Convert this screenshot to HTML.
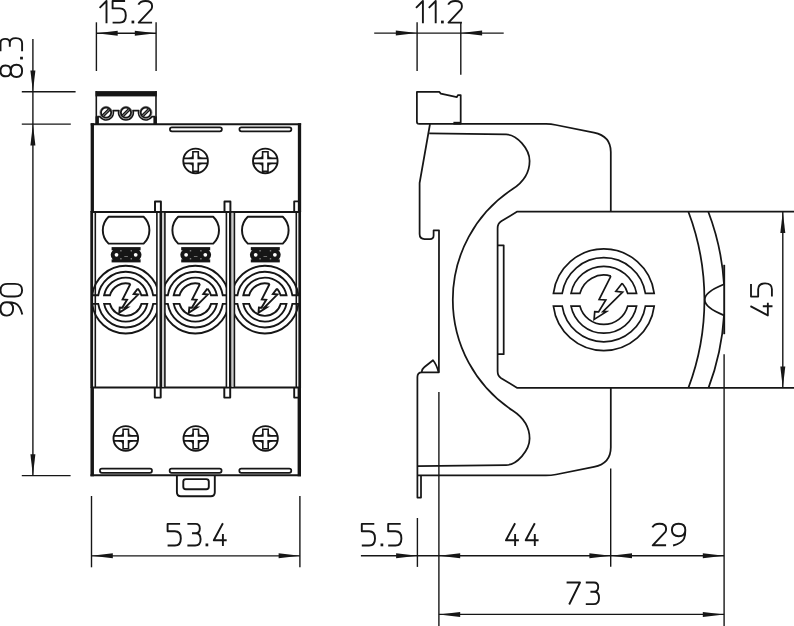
<!DOCTYPE html>
<html><head><meta charset="utf-8"><title>Dimension drawing</title>
<style>
html,body{margin:0;padding:0;background:#fff;}
body{width:794px;height:626px;overflow:hidden;font-family:"Liberation Sans",sans-serif;}
svg{display:block;}
</style></head><body>
<svg width="794" height="626" viewBox="0 0 794 626">
<rect width="794" height="626" fill="#ffffff"/>
<path d="M96.4,22.3 L96.4,71" stroke="#161616" stroke-width="1.4" fill="none"/>
<path d="M156.1,22.3 L156.1,71" stroke="#161616" stroke-width="1.4" fill="none"/>
<path d="M96.4,33.2 L156.1,33.2" stroke="#161616" stroke-width="1.4" fill="none"/>
<polygon points="96.40,33.20 117.70,30.70 117.70,35.70" fill="#161616"/>
<polygon points="156.10,33.20 134.80,30.70 134.80,35.70" fill="#161616"/>
<path transform="translate(99.60,1.00)" d="M0,6.9 L6.9,0 L6.9,22.3" fill="none" stroke="#161616" stroke-width="1.9" stroke-linejoin="round" stroke-linecap="butt"/>
<path transform="translate(112.60,1.00)" d="M12.5,0 L0,0 L0,7.4 L7.3,7.4 C11.3,7.4 13.2,10 13.2,14.5 C13.2,18.9 11.3,21.6 7.3,21.6 L0,21.6" fill="none" stroke="#161616" stroke-width="1.9" stroke-linejoin="round" stroke-linecap="butt"/>
<rect x="131.55" y="20.60" width="2.7" height="2.8" fill="#161616"/>
<path transform="translate(138.40,1.00)" d="M0,3.7 C1.2,1.3 4,0 7,0 C11,0 13.7,1.8 13.7,5 C13.7,6.3 13.5,7.3 13,8.1 L0.3,21.6 L13.7,21.6" fill="none" stroke="#161616" stroke-width="1.9" stroke-linejoin="round" stroke-linecap="butt"/>
<path d="M32.9,38.9 L32.9,475.6" stroke="#161616" stroke-width="1.4" fill="none"/>
<path d="M21.8,91.8 L75.6,91.8" stroke="#161616" stroke-width="1.4" fill="none"/>
<path d="M21.8,124.1 L70.8,124.1" stroke="#161616" stroke-width="1.4" fill="none"/>
<path d="M21.8,475.6 L70.6,475.6" stroke="#161616" stroke-width="1.4" fill="none"/>
<polygon points="32.90,91.80 30.40,70.50 35.40,70.50" fill="#161616"/>
<polygon points="32.90,124.10 30.40,145.40 35.40,145.40" fill="#161616"/>
<polygon points="32.90,475.60 30.40,454.30 35.40,454.30" fill="#161616"/>
<path transform="translate(0.50,77.00) rotate(-90) scale(1,1.0000)" d="M6.1,10.3 C2.0999999999999996,10.3 0.6999999999999993,8 0.6999999999999993,5.1 C0.6999999999999993,2 2.4999999999999996,0 6.1,0 C9.7,0 11.5,2 11.5,5.1 C11.5,8 10.1,10.3 6.1,10.3 C10.5,10.3 12.2,12.8 12.2,16 C12.2,19.3 10.1,21.6 6.1,21.6 C2.0999999999999996,21.6 0.0,19.3 0.0,16 C0.0,12.8 1.6999999999999993,10.3 6.1,10.3 Z" fill="none" stroke="#161616" stroke-width="1.9" stroke-linejoin="round" stroke-linecap="butt"/>
<rect transform="translate(0.50,58.10) rotate(-90) scale(1,1.0000)" x="-1.35" y="19.60" width="2.7" height="2.8" fill="#161616"/>
<path transform="translate(0.50,51.30) rotate(-90) scale(1,1.0000)" d="M0,0 L8.2,0 C11,0 12.4,1.8 12.4,4.6 C12.4,7.4 11,9.3 8.2,9.3 L4.6,9.3 M8.2,9.3 C11.5,9.3 13.2,11.6 13.2,15.4 C13.2,19.3 11.2,21.6 7.7,21.6 L0,21.6" fill="none" stroke="#161616" stroke-width="1.9" stroke-linejoin="round" stroke-linecap="butt"/>
<path transform="translate(0.50,315.60) rotate(-90) scale(1,1.0000)" d="M13.4,6.3 C13.4,10 11,12.6 6.7,12.6 C2.5,12.6 0,10 0,6.3 C0,2.5 2.5,0 6.7,0 C11,0 13.4,2.5 13.4,6.3 C13.4,10 13.1,12.6 12.2,14.8 C10.9,17.8 7.2,20.3 1.2,21.8" fill="none" stroke="#161616" stroke-width="1.9" stroke-linejoin="round" stroke-linecap="butt"/>
<path transform="translate(0.50,296.50) rotate(-90) scale(1,1.0000)" d="M0,7.2 C0,2.4 2.3,0 6.3,0 C10.3,0 12.6,2.4 12.6,7.2 L12.6,14.400000000000002 C12.6,19.200000000000003 10.3,21.6 6.3,21.6 C2.3,21.6 0,19.200000000000003 0,14.400000000000002 Z" fill="none" stroke="#161616" stroke-width="1.9" stroke-linejoin="round" stroke-linecap="butt"/>
<path d="M91.5,496 L91.5,567.3" stroke="#161616" stroke-width="1.4" fill="none"/>
<path d="M299.9,496 L299.9,567.3" stroke="#161616" stroke-width="1.4" fill="none"/>
<path d="M91.5,555.85 L299.9,555.85" stroke="#161616" stroke-width="1.4" fill="none"/>
<polygon points="91.50,555.85 112.80,553.35 112.80,558.35" fill="#161616"/>
<polygon points="299.90,555.85 278.60,553.35 278.60,558.35" fill="#161616"/>
<path transform="translate(167.60,523.90)" d="M12.5,0 L0,0 L0,7.4 L7.3,7.4 C11.3,7.4 13.2,10 13.2,14.5 C13.2,18.9 11.3,21.6 7.3,21.6 L0,21.6" fill="none" stroke="#161616" stroke-width="1.9" stroke-linejoin="round" stroke-linecap="butt"/>
<path transform="translate(187.40,523.90)" d="M0,0 L8.2,0 C11,0 12.4,1.8 12.4,4.6 C12.4,7.4 11,9.3 8.2,9.3 L4.6,9.3 M8.2,9.3 C11.5,9.3 13.2,11.6 13.2,15.4 C13.2,19.3 11.2,21.6 7.7,21.6 L0,21.6" fill="none" stroke="#161616" stroke-width="1.9" stroke-linejoin="round" stroke-linecap="butt"/>
<rect x="205.55" y="543.50" width="2.7" height="2.8" fill="#161616"/>
<path transform="translate(213.80,523.90)" d="M9.1,-0.6 L0,16.4 L12.9,16.4 M9.1,10.2 L9.1,22.1" fill="none" stroke="#161616" stroke-width="1.9" stroke-linejoin="round" stroke-linecap="butt"/>
<path d="M374.2,33.1 L503.7,33.1" stroke="#161616" stroke-width="1.4" fill="none"/>
<path d="M417.1,22.2 L417.1,70.9" stroke="#161616" stroke-width="1.4" fill="none"/>
<path d="M460.8,22.4 L460.8,74.7" stroke="#161616" stroke-width="1.4" fill="none"/>
<polygon points="417.10,33.10 395.80,30.60 395.80,35.60" fill="#161616"/>
<polygon points="460.80,33.10 482.10,30.60 482.10,35.60" fill="#161616"/>
<path transform="translate(416.00,1.00)" d="M0,6.9 L6.9,0 L6.9,22.3" fill="none" stroke="#161616" stroke-width="1.9" stroke-linejoin="round" stroke-linecap="butt"/>
<path transform="translate(428.80,1.00)" d="M0,6.9 L6.9,0 L6.9,22.3" fill="none" stroke="#161616" stroke-width="1.9" stroke-linejoin="round" stroke-linecap="butt"/>
<rect x="441.05" y="20.60" width="2.7" height="2.8" fill="#161616"/>
<path transform="translate(448.20,1.00)" d="M0,3.7 C1.2,1.3 4,0 7,0 C11,0 13.7,1.8 13.7,5 C13.7,6.3 13.5,7.3 13,8.1 L0.3,21.6 L13.7,21.6" fill="none" stroke="#161616" stroke-width="1.9" stroke-linejoin="round" stroke-linecap="butt"/>
<path d="M360.9,555.8 L724.1,555.8" stroke="#161616" stroke-width="1.4" fill="none"/>
<path d="M417.4,518 L417.4,566.9" stroke="#161616" stroke-width="1.4" fill="none"/>
<path d="M438.9,392.1 L438.9,626" stroke="#161616" stroke-width="1.4" fill="none"/>
<path d="M610.7,468.6 L610.7,566.8" stroke="#161616" stroke-width="1.4" fill="none"/>
<path d="M724.1,354.3 L724.1,626" stroke="#161616" stroke-width="1.4" fill="none"/>
<polygon points="417.40,555.80 396.10,553.30 396.10,558.30" fill="#161616"/>
<polygon points="438.90,555.80 460.20,553.30 460.20,558.30" fill="#161616"/>
<polygon points="610.70,555.80 589.40,553.30 589.40,558.30" fill="#161616"/>
<polygon points="610.70,555.80 632.00,553.30 632.00,558.30" fill="#161616"/>
<polygon points="724.10,555.80 702.80,553.30 702.80,558.30" fill="#161616"/>
<path transform="translate(361.80,523.90)" d="M12.5,0 L0,0 L0,7.4 L7.3,7.4 C11.3,7.4 13.2,10 13.2,14.5 C13.2,18.9 11.3,21.6 7.3,21.6 L0,21.6" fill="none" stroke="#161616" stroke-width="1.9" stroke-linejoin="round" stroke-linecap="butt"/>
<rect x="380.55" y="543.50" width="2.7" height="2.8" fill="#161616"/>
<path transform="translate(388.20,523.90)" d="M12.5,0 L0,0 L0,7.4 L7.3,7.4 C11.3,7.4 13.2,10 13.2,14.5 C13.2,18.9 11.3,21.6 7.3,21.6 L0,21.6" fill="none" stroke="#161616" stroke-width="1.9" stroke-linejoin="round" stroke-linecap="butt"/>
<path transform="translate(506.00,523.90)" d="M9.1,-0.6 L0,16.4 L12.9,16.4 M9.1,10.2 L9.1,22.1" fill="none" stroke="#161616" stroke-width="1.9" stroke-linejoin="round" stroke-linecap="butt"/>
<path transform="translate(525.70,523.90)" d="M9.1,-0.6 L0,16.4 L12.9,16.4 M9.1,10.2 L9.1,22.1" fill="none" stroke="#161616" stroke-width="1.9" stroke-linejoin="round" stroke-linecap="butt"/>
<path transform="translate(652.40,523.70)" d="M0,3.7 C1.2,1.3 4,0 7,0 C11,0 13.7,1.8 13.7,5 C13.7,6.3 13.5,7.3 13,8.1 L0.3,21.6 L13.7,21.6" fill="none" stroke="#161616" stroke-width="1.9" stroke-linejoin="round" stroke-linecap="butt"/>
<path transform="translate(671.90,523.70)" d="M13.4,6.3 C13.4,10 11,12.6 6.7,12.6 C2.5,12.6 0,10 0,6.3 C0,2.5 2.5,0 6.7,0 C11,0 13.4,2.5 13.4,6.3 C13.4,10 13.1,12.6 12.2,14.8 C10.9,17.8 7.2,20.3 1.2,21.8" fill="none" stroke="#161616" stroke-width="1.9" stroke-linejoin="round" stroke-linecap="butt"/>
<path d="M438.9,614.4 L724.1,614.4" stroke="#161616" stroke-width="1.4" fill="none"/>
<polygon points="438.90,614.40 460.20,611.90 460.20,616.90" fill="#161616"/>
<polygon points="724.10,614.40 702.80,611.90 702.80,616.90" fill="#161616"/>
<path transform="translate(566.60,582.50)" d="M0,0 L13.4,0 L2.6,22.0" fill="none" stroke="#161616" stroke-width="1.9" stroke-linejoin="round" stroke-linecap="butt"/>
<path transform="translate(585.80,582.50)" d="M0,0 L8.2,0 C11,0 12.4,1.8 12.4,4.6 C12.4,7.4 11,9.3 8.2,9.3 L4.6,9.3 M8.2,9.3 C11.5,9.3 13.2,11.6 13.2,15.4 C13.2,19.3 11.2,21.6 7.7,21.6 L0,21.6" fill="none" stroke="#161616" stroke-width="1.9" stroke-linejoin="round" stroke-linecap="butt"/>
<path d="M782.8,211.7 L782.8,387.9" stroke="#161616" stroke-width="1.4" fill="none"/>
<polygon points="782.80,211.70 780.30,233.00 785.30,233.00" fill="#161616"/>
<polygon points="782.80,387.90 780.30,366.60 785.30,366.60" fill="#161616"/>
<path transform="translate(751.00,315.40) rotate(-90) scale(1,0.9680)" d="M9.2,-0.6 L0,17.4 L12.6,17.4 M9.2,12.2 L9.2,22.200000000000003" fill="none" stroke="#161616" stroke-width="1.9" stroke-linejoin="round" stroke-linecap="butt"/>
<path transform="translate(751.00,296.60) rotate(-90) scale(1,0.9680)" d="M12.5,0 L0,0 L0,7.4 L7.3,7.4 C11.3,7.4 13.2,10 13.2,14.5 C13.2,18.9 11.3,21.6 7.3,21.6 L0,21.6" fill="none" stroke="#161616" stroke-width="1.9" stroke-linejoin="round" stroke-linecap="butt"/>
<rect x="95.5" y="91.1" width="61.3" height="5.3" fill="#161616"/>
<path d="M96.3,91.1 L96.3,124" stroke="#161616" stroke-width="1.6" fill="none"/>
<path d="M156.0,91.1 L156.0,124" stroke="#161616" stroke-width="1.6" fill="none"/>
<rect x="95.5" y="116.4" width="3.4" height="7.6" fill="#161616"/>
<rect x="153.4" y="116.4" width="3.4" height="7.6" fill="#161616"/>
<path d="M97.2,116.7 L100.06,116.7 A7.3,7.3 0 0 0 113.1,110.6 L118.95,110.6 A7.3,7.3 0 1 0 132.95,110.6 L138.8,110.6 A7.3,7.3 0 0 0 151.84,116.7 L155,116.7" stroke="#161616" stroke-width="1.8" fill="none" stroke-linejoin="round" />
<circle cx="106.1" cy="112.6" r="6.25" fill="none" stroke="#8c8c8c" stroke-width="0.9"/>
<circle cx="106.1" cy="112.6" r="5.1" fill="#fff" stroke="#161616" stroke-width="1.8"/>
<path d="M103.0,115.69999999999999 L109.19999999999999,109.5" stroke="#777" stroke-width="2.4"/>
<path d="M102.05,115.14999999999999 L108.64999999999999,108.55" stroke="#161616" stroke-width="1.2"/>
<path d="M103.55,116.64999999999999 L110.14999999999999,110.05" stroke="#161616" stroke-width="1.2"/>
<circle cx="125.95" cy="112.6" r="6.25" fill="none" stroke="#8c8c8c" stroke-width="0.9"/>
<circle cx="125.95" cy="112.6" r="5.1" fill="#fff" stroke="#161616" stroke-width="1.8"/>
<path d="M122.85000000000001,115.69999999999999 L129.05,109.5" stroke="#777" stroke-width="2.4"/>
<path d="M121.9,115.14999999999999 L128.5,108.55" stroke="#161616" stroke-width="1.2"/>
<path d="M123.4,116.64999999999999 L130.0,110.05" stroke="#161616" stroke-width="1.2"/>
<circle cx="145.8" cy="112.6" r="6.25" fill="none" stroke="#8c8c8c" stroke-width="0.9"/>
<circle cx="145.8" cy="112.6" r="5.1" fill="#fff" stroke="#161616" stroke-width="1.8"/>
<path d="M142.70000000000002,115.69999999999999 L148.9,109.5" stroke="#777" stroke-width="2.4"/>
<path d="M141.75000000000003,115.14999999999999 L148.35,108.55" stroke="#161616" stroke-width="1.2"/>
<path d="M143.25000000000003,116.64999999999999 L149.85,110.05" stroke="#161616" stroke-width="1.2"/>
<path d="M92.3,123.2 L92.3,212" stroke="#161616" stroke-width="3.3" fill="none"/>
<path d="M299.5,123.2 L299.5,212" stroke="#161616" stroke-width="3.3" fill="none"/>
<path d="M92.2,387.4 L92.2,476.3" stroke="#161616" stroke-width="3.5" fill="none"/>
<path d="M299.3,387.4 L299.3,476.3" stroke="#161616" stroke-width="3.4" fill="none"/>
<path d="M90.7,124.2 L301.1,124.2" stroke="#161616" stroke-width="2.0" fill="none"/>
<path d="M90.5,475.3 L301.0,475.3" stroke="#161616" stroke-width="2.0" fill="none"/>
<path d="M91.7,211 L91.7,388" stroke="#161616" stroke-width="2.8" fill="none"/>
<path d="M95.3,212 L95.3,387.4" stroke="#161616" stroke-width="1.6" fill="none"/>
<path d="M296.3,212 L296.3,387.4" stroke="#161616" stroke-width="1.6" fill="none"/>
<path d="M299.7,211 L299.7,388" stroke="#161616" stroke-width="2.7" fill="none"/>
<path d="M91,211.9 L301,211.9" stroke="#161616" stroke-width="2.0" fill="none"/>
<path d="M91,387.4 L301,387.4" stroke="#161616" stroke-width="2.0" fill="none"/>
<rect x="169.89999999999998" y="127.3" width="52.00000000000001" height="4.0" rx="2" ry="2" fill="none" stroke="#161616" stroke-width="1.7"/>
<rect x="239.39999999999998" y="127.3" width="52.000000000000036" height="4.0" rx="2" ry="2" fill="none" stroke="#161616" stroke-width="1.7"/>
<rect x="99.9" y="468.7" width="52.09999999999999" height="4.1" rx="2" ry="2" fill="none" stroke="#161616" stroke-width="1.7"/>
<rect x="169.6" y="468.7" width="52.00000000000001" height="4.1" rx="2" ry="2" fill="none" stroke="#161616" stroke-width="1.7"/>
<rect x="239.29999999999998" y="468.7" width="52.00000000000001" height="4.1" rx="2" ry="2" fill="none" stroke="#161616" stroke-width="1.7"/>
<circle cx="195.6" cy="160.9" r="12.3" fill="none" stroke="#161616" stroke-width="1.9"/>
<path d="M183.55674462614033,158.4 L192.9,158.4 L192.9,151.70000000000002 L198.29999999999998,151.70000000000002 L198.29999999999998,158.4 L207.64325537385966,158.4 M183.55674462614033,163.4 L192.9,163.4 L192.9,171.3 L198.29999999999998,171.3 L198.29999999999998,163.4 L207.64325537385966,163.4" fill="none" stroke="#161616" stroke-width="1.6" stroke-linejoin="miter"/>
<path d="M192.9,158.4 L188.4,158.4 Q192.3,157.8 192.9,155.4 Z" fill="#161616" stroke="#161616" stroke-width="0.6"/>
<path d="M192.9,163.4 L188.4,163.4 Q192.3,164.0 192.9,166.4 Z" fill="#161616" stroke="#161616" stroke-width="0.6"/>
<path d="M198.29999999999998,158.4 L202.79999999999998,158.4 Q198.89999999999998,157.8 198.29999999999998,155.4 Z" fill="#161616" stroke="#161616" stroke-width="0.6"/>
<path d="M198.29999999999998,163.4 L202.79999999999998,163.4 Q198.89999999999998,164.0 198.29999999999998,166.4 Z" fill="#161616" stroke="#161616" stroke-width="0.6"/>
<circle cx="265.3" cy="160.9" r="12.3" fill="none" stroke="#161616" stroke-width="1.9"/>
<path d="M253.25674462614035,158.4 L262.6,158.4 L262.6,151.70000000000002 L268.0,151.70000000000002 L268.0,158.4 L277.3432553738597,158.4 M253.25674462614035,163.4 L262.6,163.4 L262.6,171.3 L268.0,171.3 L268.0,163.4 L277.3432553738597,163.4" fill="none" stroke="#161616" stroke-width="1.6" stroke-linejoin="miter"/>
<path d="M262.6,158.4 L258.1,158.4 Q262.0,157.8 262.6,155.4 Z" fill="#161616" stroke="#161616" stroke-width="0.6"/>
<path d="M262.6,163.4 L258.1,163.4 Q262.0,164.0 262.6,166.4 Z" fill="#161616" stroke="#161616" stroke-width="0.6"/>
<path d="M268.0,158.4 L272.5,158.4 Q268.6,157.8 268.0,155.4 Z" fill="#161616" stroke="#161616" stroke-width="0.6"/>
<path d="M268.0,163.4 L272.5,163.4 Q268.6,164.0 268.0,166.4 Z" fill="#161616" stroke="#161616" stroke-width="0.6"/>
<circle cx="125.8" cy="438.4" r="12.3" fill="none" stroke="#161616" stroke-width="1.9"/>
<path d="M113.75674462614032,435.9 L123.1,435.9 L123.1,429.2 L128.5,429.2 L128.5,435.9 L137.84325537385968,435.9 M113.75674462614032,440.9 L123.1,440.9 L123.1,448.79999999999995 L128.5,448.79999999999995 L128.5,440.9 L137.84325537385968,440.9" fill="none" stroke="#161616" stroke-width="1.6" stroke-linejoin="miter"/>
<path d="M123.1,435.9 L118.6,435.9 Q122.5,435.29999999999995 123.1,432.9 Z" fill="#161616" stroke="#161616" stroke-width="0.6"/>
<path d="M123.1,440.9 L118.6,440.9 Q122.5,441.5 123.1,443.9 Z" fill="#161616" stroke="#161616" stroke-width="0.6"/>
<path d="M128.5,435.9 L133.0,435.9 Q129.1,435.29999999999995 128.5,432.9 Z" fill="#161616" stroke="#161616" stroke-width="0.6"/>
<path d="M128.5,440.9 L133.0,440.9 Q129.1,441.5 128.5,443.9 Z" fill="#161616" stroke="#161616" stroke-width="0.6"/>
<circle cx="195.8" cy="438.4" r="12.3" fill="none" stroke="#161616" stroke-width="1.9"/>
<path d="M183.75674462614035,435.9 L193.10000000000002,435.9 L193.10000000000002,429.2 L198.5,429.2 L198.5,435.9 L207.84325537385968,435.9 M183.75674462614035,440.9 L193.10000000000002,440.9 L193.10000000000002,448.79999999999995 L198.5,448.79999999999995 L198.5,440.9 L207.84325537385968,440.9" fill="none" stroke="#161616" stroke-width="1.6" stroke-linejoin="miter"/>
<path d="M193.10000000000002,435.9 L188.60000000000002,435.9 Q192.50000000000003,435.29999999999995 193.10000000000002,432.9 Z" fill="#161616" stroke="#161616" stroke-width="0.6"/>
<path d="M193.10000000000002,440.9 L188.60000000000002,440.9 Q192.50000000000003,441.5 193.10000000000002,443.9 Z" fill="#161616" stroke="#161616" stroke-width="0.6"/>
<path d="M198.5,435.9 L203.0,435.9 Q199.1,435.29999999999995 198.5,432.9 Z" fill="#161616" stroke="#161616" stroke-width="0.6"/>
<path d="M198.5,440.9 L203.0,440.9 Q199.1,441.5 198.5,443.9 Z" fill="#161616" stroke="#161616" stroke-width="0.6"/>
<circle cx="265.5" cy="438.4" r="12.3" fill="none" stroke="#161616" stroke-width="1.9"/>
<path d="M253.45674462614033,435.9 L262.8,435.9 L262.8,429.2 L268.2,429.2 L268.2,435.9 L277.54325537385967,435.9 M253.45674462614033,440.9 L262.8,440.9 L262.8,448.79999999999995 L268.2,448.79999999999995 L268.2,440.9 L277.54325537385967,440.9" fill="none" stroke="#161616" stroke-width="1.6" stroke-linejoin="miter"/>
<path d="M262.8,435.9 L258.3,435.9 Q262.2,435.29999999999995 262.8,432.9 Z" fill="#161616" stroke="#161616" stroke-width="0.6"/>
<path d="M262.8,440.9 L258.3,440.9 Q262.2,441.5 262.8,443.9 Z" fill="#161616" stroke="#161616" stroke-width="0.6"/>
<path d="M268.2,435.9 L272.7,435.9 Q268.8,435.29999999999995 268.2,432.9 Z" fill="#161616" stroke="#161616" stroke-width="0.6"/>
<path d="M268.2,440.9 L272.7,440.9 Q268.8,441.5 268.2,443.9 Z" fill="#161616" stroke="#161616" stroke-width="0.6"/>
<path d="M155.0,211.9 L155.0,201.4 L160.89999999999998,201.4 L160.89999999999998,211.9" stroke="#161616" stroke-width="1.95" fill="none" stroke-linejoin="round" />
<path d="M154.8,387.4 L154.8,397.6 L160.7,397.6 L160.7,387.4" stroke="#161616" stroke-width="1.95" fill="none" stroke-linejoin="round" />
<path d="M224.5,211.9 L224.5,201.4 L230.39999999999998,201.4 L230.39999999999998,211.9" stroke="#161616" stroke-width="1.95" fill="none" stroke-linejoin="round" />
<path d="M224.3,387.4 L224.3,397.6 L230.2,397.6 L230.2,387.4" stroke="#161616" stroke-width="1.95" fill="none" stroke-linejoin="round" />
<path d="M298.5,201.4 L294.2,201.4 L294.2,211.9" stroke="#161616" stroke-width="1.9" fill="none" stroke-linejoin="round" />
<path d="M298.5,397.6 L294.2,397.6 L294.2,387.4" stroke="#161616" stroke-width="1.9" fill="none" stroke-linejoin="round" />
<path d="M108.6,216.7 L143.6,216.7 A18.5,18.5 0 0 1 143.6,243.6 L108.6,243.6 A18.5,18.5 0 0 1 108.6,216.7 Z" stroke="#161616" stroke-width="1.95" fill="none" stroke-linejoin="round" />
<rect x="111.6" y="247.1" width="29" height="3.2" fill="#161616"/>
<rect x="111.6" y="259.3" width="29" height="3.1" fill="#161616"/>
<rect x="113.1" y="249" width="26" height="12" fill="#161616"/>
<circle cx="116.5" cy="254.8" r="5.8" fill="#161616"/>
<circle cx="116.5" cy="254.8" r="1.9" fill="#fff"/>
<rect x="120.19999999999999" y="250.20000000000002" width="1.4" height="1.2" fill="#9a9a9a"/>
<rect x="120.19999999999999" y="258.2" width="1.4" height="1.2" fill="#9a9a9a"/>
<circle cx="135.7" cy="254.8" r="5.8" fill="#161616"/>
<circle cx="135.7" cy="254.8" r="1.9" fill="#fff"/>
<rect x="130.6" y="250.20000000000002" width="1.4" height="1.2" fill="#9a9a9a"/>
<rect x="130.6" y="258.2" width="1.4" height="1.2" fill="#9a9a9a"/>
<rect x="124.3" y="256.2" width="3.6" height="0.8" fill="#8a8a8a"/>
<path d="M92.17,295.30 A33.8,33.8 0 0 1 159.23,295.30 L153.17,295.30 A27.8,27.8 0 0 0 98.23,295.30 Z M92.17,303.90 A33.8,33.8 0 0 0 159.23,303.90 L153.17,303.90 A27.8,27.8 0 0 1 98.23,303.90 Z M104.12,303.90 A22.0,22.0 0 0 0 147.28,303.90 L141.42,303.90 A16.3,16.3 0 0 1 109.98,303.90 Z M130.39,283.99 A16.3,16.3 0 0 0 109.98,295.30 L104.12,295.30 A22.0,22.0 0 0 1 147.28,295.30 L141.42,295.30 A16.3,16.3 0 0 0 137.81,288.69 " fill="none" stroke="#161616" stroke-width="1.9" stroke-linejoin="miter"/>
<path d="M130.39,283.99 L122.59,299.43 L127.03,299.77 L122.25,307.66 L119.70,307.55 L119.28,312.64 L127.42,307.48 L125.11,307.48 L138.15,294.57 L133.68,294.04 L137.81,288.69" fill="none" stroke="#161616" stroke-width="1.9" stroke-linejoin="miter"/>
<path d="M178.2,216.7 L213.2,216.7 A18.5,18.5 0 0 1 213.2,243.6 L178.2,243.6 A18.5,18.5 0 0 1 178.2,216.7 Z" stroke="#161616" stroke-width="1.95" fill="none" stroke-linejoin="round" />
<rect x="181.2" y="247.1" width="29" height="3.2" fill="#161616"/>
<rect x="181.2" y="259.3" width="29" height="3.1" fill="#161616"/>
<rect x="182.7" y="249" width="26" height="12" fill="#161616"/>
<circle cx="186.1" cy="254.8" r="5.8" fill="#161616"/>
<circle cx="186.1" cy="254.8" r="1.9" fill="#fff"/>
<rect x="189.8" y="250.20000000000002" width="1.4" height="1.2" fill="#9a9a9a"/>
<rect x="189.8" y="258.2" width="1.4" height="1.2" fill="#9a9a9a"/>
<circle cx="205.29999999999998" cy="254.8" r="5.8" fill="#161616"/>
<circle cx="205.29999999999998" cy="254.8" r="1.9" fill="#fff"/>
<rect x="200.2" y="250.20000000000002" width="1.4" height="1.2" fill="#9a9a9a"/>
<rect x="200.2" y="258.2" width="1.4" height="1.2" fill="#9a9a9a"/>
<rect x="193.89999999999998" y="256.2" width="3.6" height="0.8" fill="#8a8a8a"/>
<path d="M161.77,295.30 A33.8,33.8 0 0 1 228.83,295.30 L222.77,295.30 A27.8,27.8 0 0 0 167.83,295.30 Z M161.77,303.90 A33.8,33.8 0 0 0 228.83,303.90 L222.77,303.90 A27.8,27.8 0 0 1 167.83,303.90 Z M173.72,303.90 A22.0,22.0 0 0 0 216.88,303.90 L211.02,303.90 A16.3,16.3 0 0 1 179.58,303.90 Z M199.99,283.99 A16.3,16.3 0 0 0 179.58,295.30 L173.72,295.30 A22.0,22.0 0 0 1 216.88,295.30 L211.02,295.30 A16.3,16.3 0 0 0 207.41,288.69 " fill="none" stroke="#161616" stroke-width="1.9" stroke-linejoin="miter"/>
<path d="M199.99,283.99 L192.19,299.43 L196.63,299.77 L191.85,307.66 L189.30,307.55 L188.88,312.64 L197.02,307.48 L194.71,307.48 L207.75,294.57 L203.28,294.04 L207.41,288.69" fill="none" stroke="#161616" stroke-width="1.9" stroke-linejoin="miter"/>
<path d="M247.8,216.7 L282.8,216.7 A18.5,18.5 0 0 1 282.8,243.6 L247.8,243.6 A18.5,18.5 0 0 1 247.8,216.7 Z" stroke="#161616" stroke-width="1.95" fill="none" stroke-linejoin="round" />
<rect x="250.8" y="247.1" width="29" height="3.2" fill="#161616"/>
<rect x="250.8" y="259.3" width="29" height="3.1" fill="#161616"/>
<rect x="252.3" y="249" width="26" height="12" fill="#161616"/>
<circle cx="255.70000000000002" cy="254.8" r="5.8" fill="#161616"/>
<circle cx="255.70000000000002" cy="254.8" r="1.9" fill="#fff"/>
<rect x="259.40000000000003" y="250.20000000000002" width="1.4" height="1.2" fill="#9a9a9a"/>
<rect x="259.40000000000003" y="258.2" width="1.4" height="1.2" fill="#9a9a9a"/>
<circle cx="274.90000000000003" cy="254.8" r="5.8" fill="#161616"/>
<circle cx="274.90000000000003" cy="254.8" r="1.9" fill="#fff"/>
<rect x="269.8" y="250.20000000000002" width="1.4" height="1.2" fill="#9a9a9a"/>
<rect x="269.8" y="258.2" width="1.4" height="1.2" fill="#9a9a9a"/>
<rect x="263.5" y="256.2" width="3.6" height="0.8" fill="#8a8a8a"/>
<path d="M231.37,295.30 A33.8,33.8 0 0 1 298.43,295.30 L292.37,295.30 A27.8,27.8 0 0 0 237.43,295.30 Z M231.37,303.90 A33.8,33.8 0 0 0 298.43,303.90 L292.37,303.90 A27.8,27.8 0 0 1 237.43,303.90 Z M243.32,303.90 A22.0,22.0 0 0 0 286.48,303.90 L280.62,303.90 A16.3,16.3 0 0 1 249.18,303.90 Z M269.59,283.99 A16.3,16.3 0 0 0 249.18,295.30 L243.32,295.30 A22.0,22.0 0 0 1 286.48,295.30 L280.62,295.30 A16.3,16.3 0 0 0 277.01,288.69 " fill="none" stroke="#161616" stroke-width="1.9" stroke-linejoin="miter"/>
<path d="M269.59,283.99 L261.79,299.43 L266.23,299.77 L261.45,307.66 L258.90,307.55 L258.48,312.64 L266.62,307.48 L264.31,307.48 L277.35,294.57 L272.88,294.04 L277.01,288.69" fill="none" stroke="#161616" stroke-width="1.9" stroke-linejoin="miter"/>
<rect x="156.9" y="213" width="8" height="173.4" fill="#fff"/>
<path d="M156.9,212 L156.9,387.4" stroke="#161616" stroke-width="1.6" fill="none"/>
<path d="M160.8,212 L160.8,387.4" stroke="#161616" stroke-width="2.6" fill="none"/>
<rect x="162" y="212.8" width="2.2" height="173.7" fill="#c9c9c9"/>
<path d="M164.9,212 L164.9,387.4" stroke="#161616" stroke-width="1.6" fill="none"/>
<rect x="226.4" y="213" width="8" height="173.4" fill="#fff"/>
<path d="M226.4,212 L226.4,387.4" stroke="#161616" stroke-width="1.6" fill="none"/>
<path d="M230.3,212 L230.3,387.4" stroke="#161616" stroke-width="2.6" fill="none"/>
<rect x="231.5" y="212.8" width="2.2" height="173.7" fill="#c9c9c9"/>
<path d="M234.4,212 L234.4,387.4" stroke="#161616" stroke-width="1.6" fill="none"/>
<path d="M176.9,475.3 L176.9,492.2 Q176.9,496.2 180.9,496.2 L210.8,496.2 Q214.8,496.2 214.8,492.2 L214.8,475.3" stroke="#161616" stroke-width="1.9" fill="none" stroke-linejoin="round" />
<rect x="183.3" y="479.1" width="25.5" height="10.2" rx="2.5" ry="2.5" fill="none" stroke="#161616" stroke-width="1.9"/>
<path d="M418.9,123.9 Q416.9,123.9 416.9,121.8 L416.9,91.9 L439.3,91.9 L440.8,93.6 L456.9,97.1 L457.9,95.1 L460.7,95.1 L460.7,124.2" stroke="#161616" stroke-width="1.75" fill="none" stroke-linejoin="round" />
<rect x="453.4" y="121.8" width="7.3" height="2.8" fill="#161616"/>
<path d="M418.9,123.9 L546,123.9 Q551,123.9 556,125 L594,132.6 Q610.8,136 610.8,152 L610.8,211.4" stroke="#161616" stroke-width="1.75" fill="none" stroke-linejoin="round" />
<path d="M417.4,475.4 L546,475.4 Q551,475.4 556,474.5 L594,466.9 Q610.8,463.5 610.8,447.5 L610.8,388" stroke="#161616" stroke-width="1.75" fill="none" stroke-linejoin="round" />
<path d="M430,124 L419.6,183 L419.6,234 Q419.6,239 424.6,239 L430,239 Q433.6,239 433.6,235.4 L433.6,230.3 L439.0,230.3 L438.9,372.3 L421.8,372.3 Q417.4,372.3 417.4,377 L417.4,497.5 L421,497.5 L421,475.4" stroke="#161616" stroke-width="1.75" fill="none" stroke-linejoin="round" />
<path d="M421.6,372.3 Q421.8,369 424.2,367.2 L433,360.2 Q436.6,364.5 438.6,372.3" stroke="#161616" stroke-width="1.75" fill="none" stroke-linejoin="round" />
<path d="M429.2,133.4 L506.2,134.4 C516.7,134.4 529.6,148.9 529.6,160.9 C529.6,173.9 521.8,183 512.6,189 A132.5,132.5 0 0 0 452.8,299.75 A132.5,132.5 0 0 0 512.6,410.5 C521.8,416.5 529.6,425.6 529.6,438.6 C529.6,450.6 516.7,465.1 506.2,465.1 L417.4,466.2" stroke="#161616" stroke-width="1.75" fill="none" stroke-linejoin="round" />
<path d="M794,211.7 L517.3,211.6 L501.2,221.2 Q497.6,223.5 497.6,228.2 L497.6,371.3 Q497.6,376.0 501.2,378.3 L517.3,387.9 L794,387.9" stroke="#161616" stroke-width="1.75" fill="none" stroke-linejoin="round" />
<path d="M497.6,245.3 L503.7,245.3 L503.7,354.2 L497.6,354.2" stroke="#161616" stroke-width="1.75" fill="none" stroke-linejoin="round" />
<path d="M688.4,211.7 A250,250 0 0 1 688.4,387.9" stroke="#161616" stroke-width="1.75" fill="none" stroke-linejoin="round" />
<path d="M708.3,211.7 A247,247 0 0 1 724.0,284.2" stroke="#161616" stroke-width="1.75" fill="none" stroke-linejoin="round" />
<path d="M724.0,315.4 A247,247 0 0 1 708.5,387.9" stroke="#161616" stroke-width="1.75" fill="none" stroke-linejoin="round" />
<path d="M724.2,264.8 L724.2,334.2" stroke="#161616" stroke-width="1.9" fill="none"/>
<path d="M724,284.3 Q685.4,299.8 724,315.4" stroke="#161616" stroke-width="1.75" fill="none" stroke-linejoin="round" />
<path d="M553.41,293.30 A50.8,50.8 0 0 1 654.19,293.30 L645.40,293.30 A42.1,42.1 0 0 0 562.20,293.30 Z M553.41,306.20 A50.8,50.8 0 0 0 654.19,306.20 L645.40,306.20 A42.1,42.1 0 0 1 562.20,306.20 Z M571.03,306.20 A33.4,33.4 0 0 0 636.57,306.20 L627.64,306.20 A24.7,24.7 0 0 1 579.96,306.20 Z M610.90,276.09 A24.7,24.7 0 0 0 579.96,293.30 L571.03,293.30 A33.4,33.4 0 0 1 636.57,293.30 L627.64,293.30 A24.7,24.7 0 0 0 622.16,283.23 " fill="none" stroke="#161616" stroke-width="1.7" stroke-linejoin="miter"/>
<path d="M610.90,276.09 L599.10,299.50 L605.82,300.00 L598.59,311.93 L594.73,311.76 L594.10,319.45 L606.40,311.65 L602.90,311.65 L622.62,292.15 L615.85,291.35 L622.16,283.23" fill="none" stroke="#161616" stroke-width="1.7" stroke-linejoin="miter"/>
</svg>
</body></html>
